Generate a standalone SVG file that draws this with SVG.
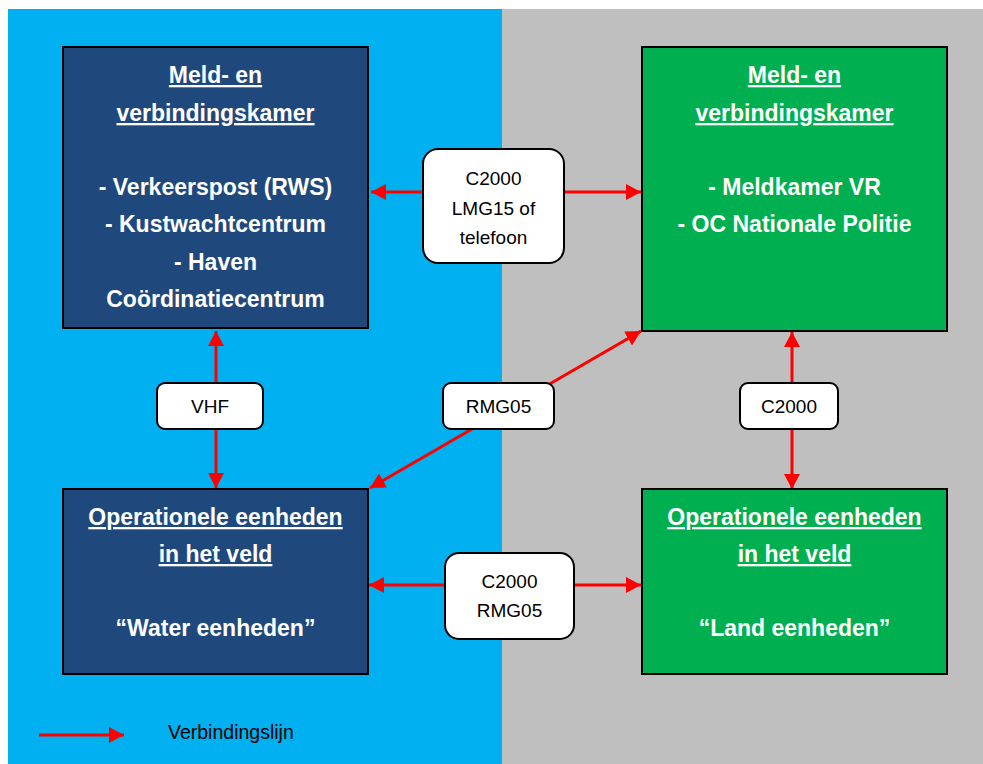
<svg xmlns="http://www.w3.org/2000/svg" width="983" height="764" viewBox="0 0 983 764">
<style>
.node{stroke:#000;stroke-width:2}
.navy{fill:#1F497D}
.green{fill:#00B050}
.t{font-family:"Liberation Sans",Arial,sans-serif;font-weight:bold;font-size:23px;fill:#fff;text-anchor:middle}
.u{text-decoration:underline}
.lbl{fill:#fff;stroke:#000;stroke-width:2}
.lt{font-family:"Liberation Sans",Arial,sans-serif;font-size:19px;fill:#000;text-anchor:middle}
.c{stroke:#FF0000;stroke-width:3;fill:none}
</style>
<defs>
<marker id="ah" markerUnits="userSpaceOnUse" markerWidth="16" markerHeight="18" refX="15" refY="8" orient="auto">
<path d="M0,0 L15,8 L0,16 Z" fill="#FF0000"/>
</marker>
</defs>
<rect x="0" y="0" width="983" height="764" fill="#fff"/>
<rect x="8" y="9" width="494" height="755" fill="#00B0F0"/>
<rect x="502" y="9" width="481" height="755" fill="#BFBFBF"/>

<g id="connectors">
<line class="c" x1="423" y1="192" x2="371" y2="192" marker-end="url(#ah)"/>
<line class="c" x1="564" y1="192" x2="641" y2="192" marker-end="url(#ah)"/>
<line class="c" x1="216" y1="383" x2="216" y2="331" marker-end="url(#ah)"/>
<line class="c" x1="216" y1="429" x2="216" y2="488" marker-end="url(#ah)"/>
<line class="c" x1="510" y1="407" x2="641" y2="331" marker-end="url(#ah)"/>
<line class="c" x1="510" y1="407" x2="370" y2="488" marker-end="url(#ah)"/>
<line class="c" x1="792" y1="383" x2="792" y2="332" marker-end="url(#ah)"/>
<line class="c" x1="792" y1="429" x2="792" y2="489" marker-end="url(#ah)"/>
<line class="c" x1="445" y1="585" x2="369" y2="585" marker-end="url(#ah)"/>
<line class="c" x1="574" y1="585" x2="641" y2="585" marker-end="url(#ah)"/>
</g>

<g id="node-meld-water">
<rect class="node navy" x="63" y="47" width="305" height="281"/>
<text class="t u" x="215.5" y="83">Meld- en</text>
<text class="t u" x="215.5" y="121">verbindingskamer</text>
<text class="t" x="215.5" y="195">- Verkeerspost (RWS)</text>
<text class="t" x="215.5" y="232">- Kustwachtcentrum</text>
<text class="t" x="215.5" y="270">- Haven</text>
<text class="t" x="215.5" y="307">Coördinatiecentrum</text>
</g>

<g id="node-meld-land">
<rect class="node green" x="642" y="47" width="305" height="284"/>
<text class="t u" x="794.5" y="83">Meld- en</text>
<text class="t u" x="794.5" y="121">verbindingskamer</text>
<text class="t" x="794.5" y="195">- Meldkamer VR</text>
<text class="t" x="794.5" y="232">- OC Nationale Politie</text>
</g>

<g id="node-ops-water">
<rect class="node navy" x="63" y="489" width="305" height="185"/>
<text class="t u" x="215.5" y="525">Operationele eenheden</text>
<text class="t u" x="215.5" y="562">in het veld</text>
<text class="t" x="215.5" y="636">“Water eenheden”</text>
</g>

<g id="node-ops-land">
<rect class="node green" x="642" y="489" width="305" height="185"/>
<text class="t u" x="794.5" y="525">Operationele eenheden</text>
<text class="t u" x="794.5" y="562">in het veld</text>
<text class="t" x="794.5" y="636">“Land eenheden”</text>
</g>

<g id="label-c2000-lmg15">
<rect class="lbl" x="423" y="149" width="141" height="114" rx="15"/>
<text class="lt" x="493.5" y="185">C2000</text>
<text class="lt" x="493.5" y="215">LMG15 of</text>
<text class="lt" x="493.5" y="244">telefoon</text>
</g>

<g id="label-vhf">
<rect class="lbl" x="157" y="383" width="106" height="46" rx="8"/>
<text class="lt" x="210" y="413">VHF</text>
</g>

<g id="label-rmg05">
<rect class="lbl" x="443" y="383" width="111" height="46" rx="8"/>
<text class="lt" x="498.5" y="413">RMG05</text>
</g>

<g id="label-c2000">
<rect class="lbl" x="740" y="383" width="98" height="46" rx="8"/>
<text class="lt" x="789" y="413">C2000</text>
</g>

<g id="label-c2000-rmg05">
<rect class="lbl" x="445" y="553" width="129" height="86" rx="14"/>
<text class="lt" x="509.5" y="588">C2000</text>
<text class="lt" x="509.5" y="617">RMG05</text>
</g>

<g id="legend">
<line class="c" x1="39" y1="735" x2="124" y2="735" marker-end="url(#ah)"/>
<text x="168" y="739" style="font-family:'Liberation Sans',Arial,sans-serif;font-size:19.5px;fill:#000">Verbindingslijn</text>
</g>
</svg>
